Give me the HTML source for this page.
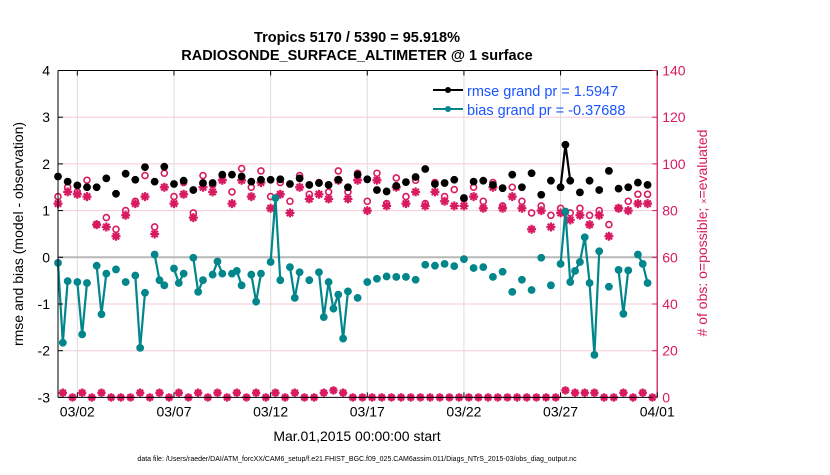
<!DOCTYPE html>
<html><head><meta charset="utf-8">
<style>
body{margin:0;background:#fff;}
svg text{font-family:"Liberation Sans",sans-serif;}
</style></head>
<body>
<svg id="chart" width="830" height="470" viewBox="0 0 830 470" xmlns="http://www.w3.org/2000/svg">
<rect x="0" y="0" width="830" height="470" fill="#fff"/>
<g id="grid"></g>
<g id="marks"></g>
<g id="axes"></g>
<text x="357" y="42" text-anchor="middle" font-size="14.5" font-weight="bold">Tropics 5170 / 5390 = 95.918%</text>
<text x="357" y="60" text-anchor="middle" font-size="14.5" font-weight="bold">RADIOSONDE_SURFACE_ALTIMETER @ 1 surface</text>
<text transform="translate(23,234) rotate(-90)" text-anchor="middle" font-size="14">rmse and bias (model - observation)</text>
<text transform="translate(707,233) rotate(-90)" text-anchor="middle" font-size="14" fill="#d81b60"># of obs: o=possible; <tspan font-size="9">×</tspan>=evaluated</text>
<text x="357" y="441" text-anchor="middle" font-size="14">Mar.01,2015 00:00:00 start</text>
<text x="357" y="461" text-anchor="middle" font-size="7">data file: /Users/raeder/DAI/ATM_forcXX/CAM6_setup/f.e21.FHIST_BGC.f09_025.CAM6assim.011/Diags_NTrS_2015-03/obs_diag_output.nc</text>
<g>
<line x1="433" y1="90" x2="463" y2="90" stroke="#000" stroke-width="2"/>
<circle cx="448" cy="90" r="3" fill="#000"/>
<text x="467" y="96" font-size="14.5" fill="#1a55ff">rmse grand pr = 1.5947</text>
<line x1="433" y1="109" x2="463" y2="109" stroke="#00868b" stroke-width="2"/>
<circle cx="448" cy="109" r="3" fill="#00868b"/>
<text x="467" y="115" font-size="14.5" fill="#1a55ff">bias grand pr = -0.37688</text>
</g>
</svg>
<script>
// data (days since Mar 1 00Z)
const xTickLabels = ["03/02","03/07","03/12","03/17","03/22","03/27","04/01"];
const xTickDays = [1,6,11,16,21,26,31];
const yTicksLeft = [-3,-2,-1,0,1,2,3,4];
const yTicksRight = [0,20,40,60,80,100,120,140];

const rmseDays = [0,0.5,1,1.5,2,2.5,3,3.5,4,4.5,5,5.5,6,6.5,7,7.5,8,8.5,9,9.5,10,10.5,11,11.5,12,12.5,13,13.5,14,14.5,15,15.5,16,16.5,17,17.5,18,18.5,19,19.5,20,20.5,21,21.5,22,22.5,23,23.5,24,24.5,25,25.5,26,26.25,26.5,27,27.5,28,28.5,29,29.5,30,30.5];
const rmseVals = [1.73,1.62,1.54,1.50,1.50,1.69,1.36,1.79,1.66,1.93,1.62,1.94,1.57,1.64,1.44,1.59,1.59,1.77,1.77,1.73,1.62,1.66,1.66,1.67,1.57,1.69,1.55,1.59,1.55,1.66,1.50,1.77,
 1.67,1.44,1.41,1.53,1.61,1.72,1.89,1.57,1.59,1.66,1.27,1.62,1.64,1.55,1.48,1.77,1.50,1.80,1.34,1.64,1.50,2.41,1.64,1.39,1.64,1.44,1.85,1.47,1.50,1.60,1.55];

const biasDays = [0,0.25,0.5,1,1.25,1.5,2,2.25,2.5,3,3.5,4,4.25,4.5,5,5.25,5.5,6,6.25,6.5,7,7.25,7.5,8,8.25,8.5,9,9.25,9.5,10,10.25,10.5,11,11.25,11.5,12,12.25,12.5,13,13.5,13.75,14,14.25,14.5,14.75,15,15.5,
 16,16.5,17,17.5,18,18.5,19,19.5,20,20.5,21,21.5,22,22.5,23,23.5,24,24.5,25,25.5,
 26,26.25,26.5,26.75,27,27.25,27.5,27.75,28,28.5,29,29.25,29.5,30,30.25,30.5];
const biasVals = [-0.12,-1.83,-0.51,-0.53,-1.65,-0.55,-0.18,-1.22,-0.35,-0.26,-0.53,-0.39,-1.94,-0.76,0.06,-0.49,-0.60,-0.24,-0.55,-0.35,-0.01,-0.74,-0.49,-0.37,-0.09,-0.35,-0.35,-0.29,-0.60,-0.37,-0.95,-0.35,-0.10,1.27,-0.49,-0.21,-0.87,-0.32,-0.49,-0.32,-1.28,-0.53,-1.10,-0.80,-1.74,-0.73,-0.87,
 -0.53,-0.46,-0.41,-0.42,-0.42,-0.48,-0.16,-0.18,-0.14,-0.19,-0.04,-0.23,-0.21,-0.42,-0.31,-0.74,-0.48,-0.70,-0.01,-0.60,
 -0.14,0.98,-0.53,-0.29,-0.10,0.43,-0.55,-2.09,0.13,-0.63,-0.27,-1.21,-0.28,0.06,-0.14,-0.55];

const obsPossible = [86,90,88,93,74,77,72,80,84,95,73,96,86,92,79,95,91,95,88,98,90,97,86,92,84,95,87,92,88,97,88,96,
 84,96,83,94,86,93,83,92,86,89,85,90,84,92,82,90,84,79,82,78,81,79,81,78,80,74,81,84,87,87];
const obsEvaluated = [83,88,87,86,74,73,69,78,83,86,70,90,83,87,77,90,88,93,83,93,86,92,81,87,79,90,85,87,85,93,85,93,
 80,93,82,90,83,88,82,88,84,82,82,86,81,90,81,86,81,72,80,73,79,76,78,74,78,69,81,80,83,83];
const obsLow = [2,0,2,0,2,0,0,0,2,0,2,0,2,0,2,0,2,0,2,0,2,0,2,0,2,0,0,2,3,2,0,
 0,0,0,0,0,0,0,0,0,0,0,0,0,0,0,0,0,0,0,0,0,3,2,2,2,0,0,2,0,2,0];

const X0=58, PXDAY=19.33, Y4=70.5, PXU=46.7;
const xs = d => X0 + d*PXDAY;
const yL = v => Y4 + (4-v)*PXU;
const yR = n => yL(n/20 - 3);
const NS="http://www.w3.org/2000/svg";
function mk(tag, parent, attrs){const e=document.createElementNS(NS,tag);for(const k in attrs)e.setAttribute(k,attrs[k]);parent.appendChild(e);return e;}
const grid=document.getElementById('grid'), marks=document.getElementById('marks'), axes=document.getElementById('axes');
const PX1=xs(0), PX2=xs(31), PY1=yL(4), PY2=yL(-3);

// grid
yTicksRight.forEach(n=>{ if(n>0&&n<140){const l=mk('line',grid,{x1:PX1,x2:PX2,y1:yR(n),y2:yR(n),stroke:'#f6c9d8','stroke-width':1});

}});
xTickDays.forEach(d=>{const l=mk('line',grid,{x1:xs(d),x2:xs(d),y1:PY1,y2:PY2,stroke:'#dcdcdc','stroke-width':1});

});
const zl=mk('line',grid,{x1:PX1,x2:PX2,y1:yL(0),y2:yL(0),stroke:'#b8b8b8','stroke-width':2});



function star(g,cx,cy,r){
  const p=[];for(let i=0;i<4;i++){const a=i*Math.PI/4;p.push(`M${cx-r*Math.cos(a)},${cy-r*Math.sin(a)}L${cx+r*Math.cos(a)},${cy+r*Math.sin(a)}`);}
  return mk('path',g,{d:p.join(''),stroke:'#d81b60','stroke-width':2.2,fill:'none'});
}
obsPossible.forEach((n,i)=>{const c=mk('circle',marks,{cx:xs(i*0.5),cy:yR(n),r:3,fill:'none',stroke:'#d81b60','stroke-width':1.6});

});
obsEvaluated.forEach((n,i)=>{const s=star(marks,xs(i*0.5),yR(n),4.5);

});
obsLow.forEach((n,i)=>{const d=i*0.5+0.25;
const c=mk('circle',marks,{cx:xs(d),cy:yR(n),r:2.8,fill:'#d81b60',stroke:'#d81b60','stroke-width':1.2});


const s=star(marks,xs(d),yR(n),4.2);

});

function series(days,vals,color,name){
  for(let i=1;i<days.length;i++){ if(days[i]-days[i-1]<0.3){
    const l=mk('line',marks,{x1:xs(days[i-1]),y1:yL(vals[i-1]),x2:xs(days[i]),y2:yL(vals[i]),stroke:color,'stroke-width':2.2});
    
    }}
  days.forEach((d,i)=>{const c=mk('circle',marks,{cx:xs(d),cy:yL(vals[i]),r:3.9,fill:color});
  
  });
}
series(biasDays,biasVals,'#00868b','bias');
series(rmseDays,rmseVals,'#000','rmse');

mk('line',axes,{x1:PX1,x2:PX2,y1:PY1,y2:PY1,stroke:'#000','stroke-width':1});
mk('line',axes,{x1:PX1,x2:PX2,y1:PY2,y2:PY2,stroke:'#000','stroke-width':1});
mk('line',axes,{x1:PX1,x2:PX1,y1:PY1,y2:PY2,stroke:'#000','stroke-width':1});
mk('line',axes,{x1:PX2,x2:PX2,y1:PY1,y2:PY2,stroke:'#d81b60','stroke-width':1.3});
yTicksLeft.forEach(v=>{mk('line',axes,{x1:PX1,x2:PX1+5,y1:yL(v),y2:yL(v),stroke:'#000'});
const t=mk('text',axes,{x:PX1-8,y:yL(v)+5,'text-anchor':'end','font-size':14});t.textContent=v;

});
yTicksRight.forEach(n=>{mk('line',axes,{x1:PX2-5,x2:PX2,y1:yR(n),y2:yR(n),stroke:'#d81b60'});
const t=mk('text',axes,{x:PX2+5,y:yR(n)+5,'font-size':14,fill:'#d81b60'});t.textContent=n;

});
xTickDays.forEach((d,i)=>{mk('line',axes,{x1:xs(d),x2:xs(d),y1:PY2,y2:PY2-5,stroke:'#000'});mk('line',axes,{x1:xs(d),x2:xs(d),y1:PY1,y2:PY1+5,stroke:'#000'});
const t=mk('text',axes,{x:xs(d),y:PY2+19,'text-anchor':'middle','font-size':14});t.textContent=xTickLabels[i];

});
</script>
</body></html>
